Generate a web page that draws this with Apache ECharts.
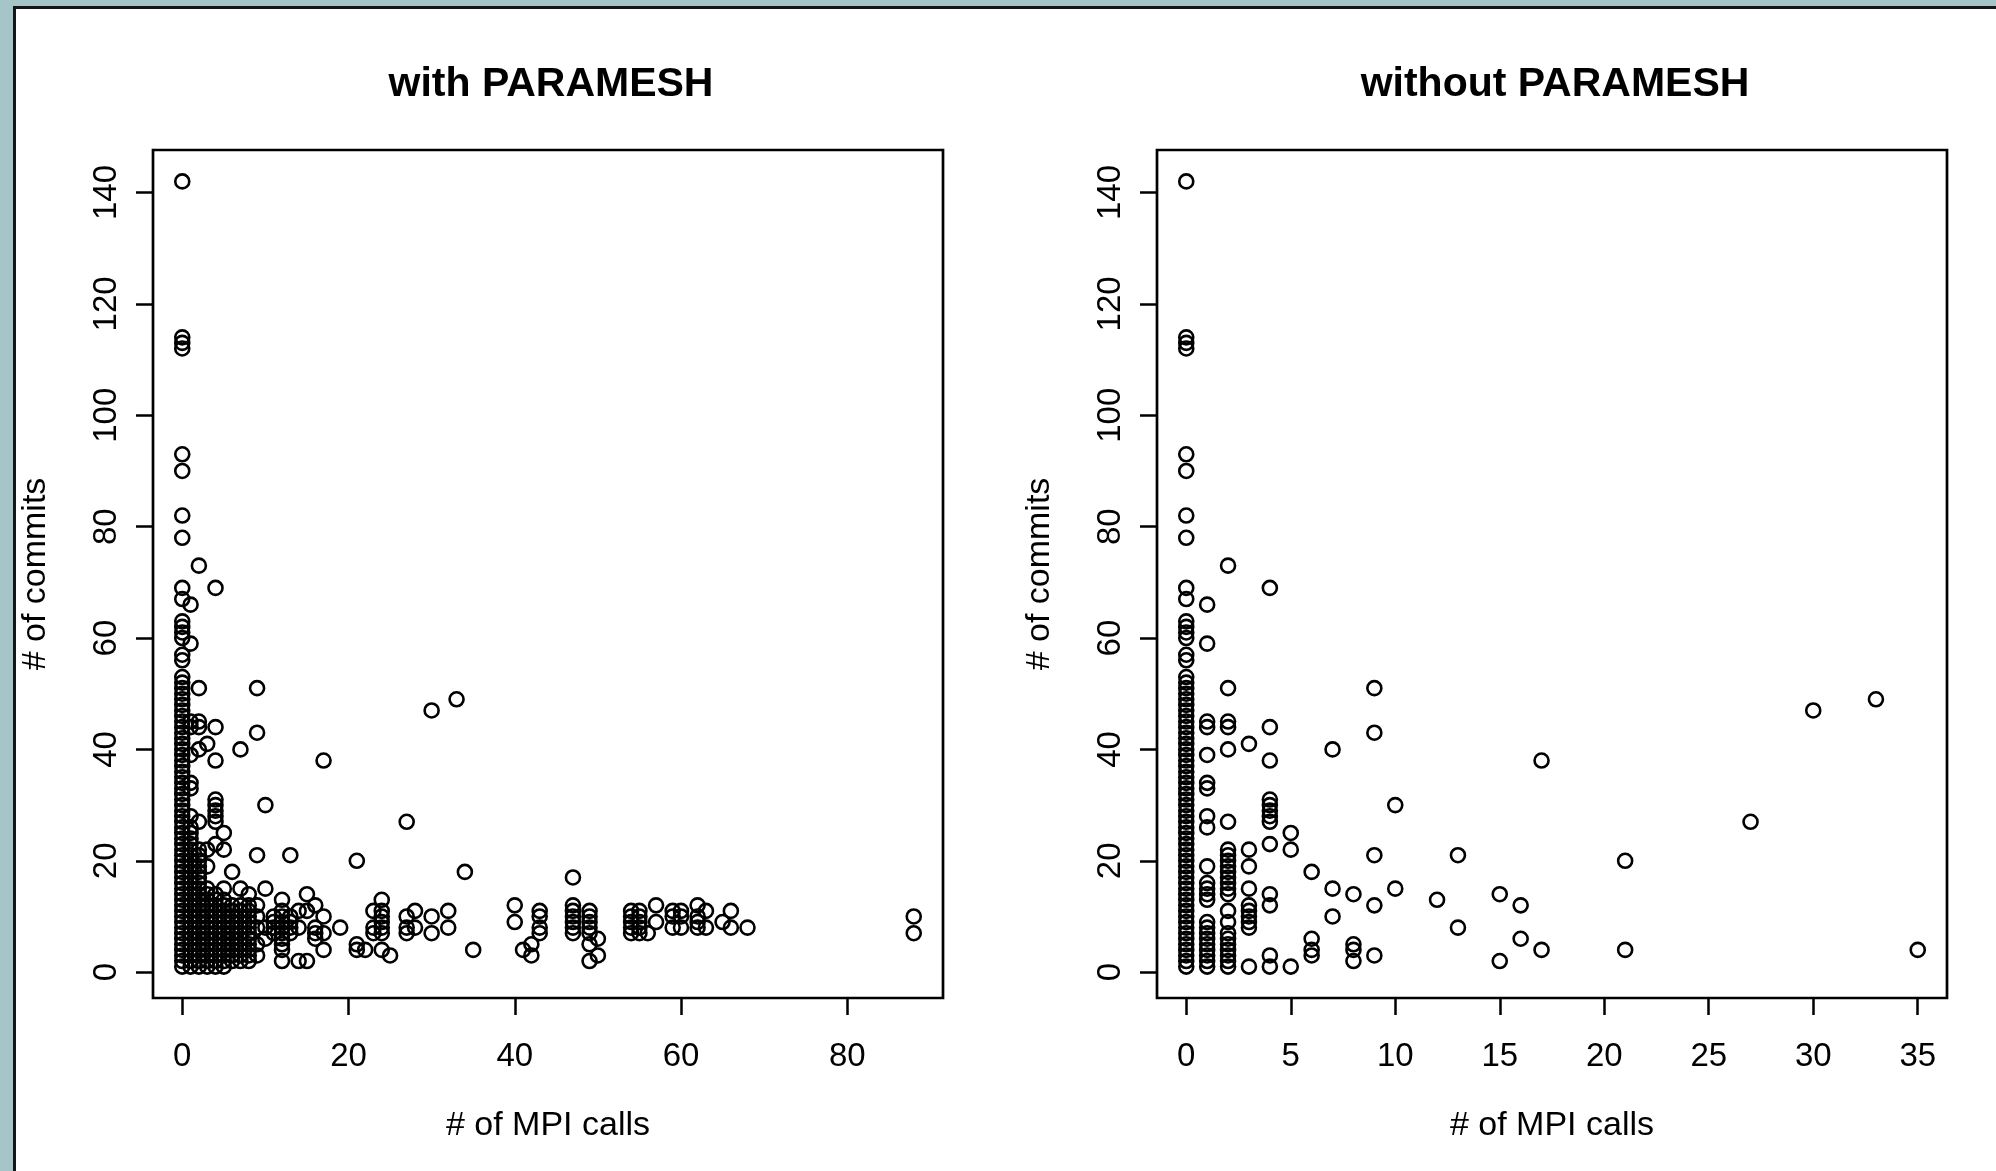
<!DOCTYPE html>
<html>
<head>
<meta charset="utf-8">
<title>MPI calls vs commits</title>
<script src="https://cdn.jsdelivr.net/npm/echarts@6/dist/echarts.min.js"></script>
<style>
    html, body { margin: 0; padding: 0; width: 1996px; height: 1171px; overflow: hidden; background: #a6c5c8; }
    #sheet { position: absolute; left: 13px; top: 6px; right: 0; bottom: 0; background: #fff;
             border-left: 3px solid #161616; border-top: 3px solid #161616; }
    #main { position: absolute; left: 0; top: 0; width: 1996px; height: 1171px; }
</style>
</head>
<body>
<div id="sheet"></div>
<div id="main"></div>
<script>
// files outside PARAMESH: [# of MPI calls, [# of commits ...]]
var filesNoParamesh = [
    [0, [142, 114, 113, 112, 93, 90, 82, 78, 69, 67, 63, 62, 61, 60, 57, 56,
         53, 52, 51, 50, 49, 48, 47, 46, 45, 44, 43, 42, 41, 40, 39, 38, 37, 36, 35, 34, 33, 32, 31, 30,
         29, 28, 27, 26, 25, 24, 23, 22, 21, 20, 19, 18, 17, 16, 15, 14, 13, 12, 11, 10,
         9, 8, 7, 6, 5, 4, 3, 2, 1]],
    [1, [66, 59, 45, 44, 39, 34, 33, 28, 26, 19, 16, 15, 14, 13, 9, 8, 7, 6, 5, 4, 3, 2, 1]],
    [2, [73, 51, 45, 44, 40, 27, 22, 21, 20, 19, 18, 17, 16, 15, 14, 11, 9, 7, 6, 5, 4, 3, 2, 1]],
    [3, [41, 22, 19, 15, 12, 11, 10, 9, 8, 1]],
    [4, [69, 44, 38, 31, 30, 29, 28, 27, 23, 14, 12, 3, 1]],
    [5, [25, 22, 1]],
    [6, [18, 6, 4, 3]],
    [7, [40, 15, 10]],
    [8, [14, 5, 4, 2]],
    [9, [51, 43, 21, 12, 3]],
    [10, [30, 15]],
    [12, [13]],
    [13, [21, 8]],
    [15, [14, 2]],
    [16, [12, 6]],
    [17, [38, 4]],
    [21, [20, 4]],
    [27, [27]],
    [30, [47]],
    [33, [49]],
    [35, [4]]
];

// files that only show up when PARAMESH is included
var filesParameshOnly = [
    [1, [25, 24, 23, 22, 21, 20, 18, 17, 12, 11, 10]],
    [2, [13, 12, 10, 8]],
    [3, [14, 13, 7, 6, 5, 4, 3, 2]],
    [4, [13, 11, 10, 9, 8, 7, 6, 5, 4, 2]],
    [5, [15, 13, 12, 11, 10, 9, 8, 7, 6, 5, 4, 3, 2]],
    [6, [12, 11, 10, 9, 8, 7, 5, 2]],
    [7, [12, 11, 9, 8, 7, 6, 5, 4, 3, 2]],
    [8, [12, 11, 10, 9, 8, 7, 6, 3]],
    [9, [10, 8, 5]],
    [10, [8, 6]],
    [11, [10, 9, 8, 7]],
    [12, [11, 10, 9, 8, 7, 6, 5, 4, 2]],
    [13, [10, 9, 7]],
    [14, [11, 8, 2]],
    [15, [11]],
    [16, [8, 7]],
    [17, [10, 7]],
    [19, [8]],
    [21, [5]],
    [22, [4]],
    [23, [11, 8, 7]],
    [24, [13, 11, 10, 9, 8, 7, 4]],
    [25, [3]],
    [27, [10, 8, 7]],
    [28, [11, 8]],
    [30, [10, 7]],
    [32, [11, 8]],
    [34, [18]],
    [40, [12, 9]],
    [41, [4]],
    [42, [5, 3]],
    [43, [11, 10, 8, 7]],
    [47, [17, 12, 11, 10, 9, 8, 7]],
    [49, [11, 10, 9, 8, 7, 5, 2]],
    [50, [6, 3]],
    [54, [11, 10, 9, 8, 7]],
    [55, [11, 10, 9, 8, 7]],
    [56, [7]],
    [57, [12, 9]],
    [59, [11, 10, 8]],
    [60, [11, 10, 8]],
    [62, [12, 10, 9, 8]],
    [63, [11, 8]],
    [65, [9]],
    [66, [11, 8]],
    [68, [8]],
    [88, [10, 7]]
];

var panelTitles = ['with PARAMESH', 'without PARAMESH'];
var xTicksWith = [0, 20, 40, 60, 80];
var xTicksWithout = [0, 5, 10, 15, 20, 25, 30, 35];
var yTicks = [0, 20, 40, 60, 80, 100, 120, 140];

var FONT = '"Liberation Sans", Arial, Helvetica, sans-serif';

function toPoints(cols) {
    var out = [];
    cols.forEach(function (c) {
        c[1].forEach(function (y) { out.push([c[0], y]); });
    });
    return out;
}

var withoutPts = toPoints(filesNoParamesh);
var withPts = withoutPts.concat(toPoints(filesParameshOnly));

// R style: range padded by 4% on each side
function padRange(lo, hi) {
    var d = (hi - lo) * 0.04;
    return [lo - d, hi + d];
}
var yRange = padRange(1, 142);
var xRangeWith = padRange(0, 88);
var xRangeWithout = padRange(0, 35);

function xAxis(idx, range, ticks) {
    return {
        type: 'value', gridIndex: idx, min: range[0], max: range[1],
        splitLine: {show: false},
        axisLine: {show: false, onZero: false},
        axisTick: {show: true, inside: false, length: 17, customValues: ticks,
                   lineStyle: {color: '#000', width: 2.5}},
        axisLabel: {customValues: ticks, margin: 42, fontSize: 33, color: '#000', fontFamily: FONT},
        name: '# of MPI calls', nameLocation: 'middle', nameGap: 111,
        nameTextStyle: {fontSize: 34, color: '#000', fontFamily: FONT}
    };
}

function yAxis(idx) {
    return {
        type: 'value', gridIndex: idx, min: yRange[0], max: yRange[1],
        splitLine: {show: false},
        axisLine: {show: false, onZero: false},
        axisTick: {show: true, inside: false, length: 17, customValues: yTicks,
                   lineStyle: {color: '#000', width: 2.5}},
        axisLabel: {customValues: yTicks, rotate: 90, margin: 30, fontSize: 33, color: '#000', fontFamily: FONT},
        name: '# of commits', nameLocation: 'middle', nameGap: 100,
        nameTextStyle: {fontSize: 34, color: '#000', fontFamily: FONT}
    };
}

function scatter(idx, pts) {
    return {
        type: 'scatter', xAxisIndex: idx, yAxisIndex: idx,
        symbol: 'circle', symbolSize: 14,
        itemStyle: {color: 'rgba(0,0,0,0)', borderColor: '#000', borderWidth: 2.6, opacity: 1},
        emphasis: {disabled: true},
        data: pts
    };
}

var myChart = echarts.init(document.getElementById('main'));
var option = {
    animation: false,
    backgroundColor: 'transparent',
    title: [{
        text: panelTitles[0], left: 546, top: 59, textAlign: 'center',
        textStyle: {fontSize: 41, fontWeight: 'bold', color: '#000', fontFamily: FONT}
    }, {
        text: panelTitles[1], left: 1550, top: 59, textAlign: 'center',
        textStyle: {fontSize: 41, fontWeight: 'bold', color: '#000', fontFamily: FONT}
    }],
    grid: [
        {left: 153, top: 150, width: 790, height: 848, show: true, borderColor: '#000', borderWidth: 2.7,
         backgroundColor: 'transparent'},
        {left: 1157, top: 150, width: 790, height: 848, show: true, borderColor: '#000', borderWidth: 2.7,
         backgroundColor: 'transparent'}
    ],
    xAxis: [xAxis(0, xRangeWith, xTicksWith), xAxis(1, xRangeWithout, xTicksWithout)],
    yAxis: [yAxis(0), yAxis(1)],
    series: [scatter(0, withPts), scatter(1, withoutPts)]
};
myChart.setOption(option);
</script>
</body>
</html>
